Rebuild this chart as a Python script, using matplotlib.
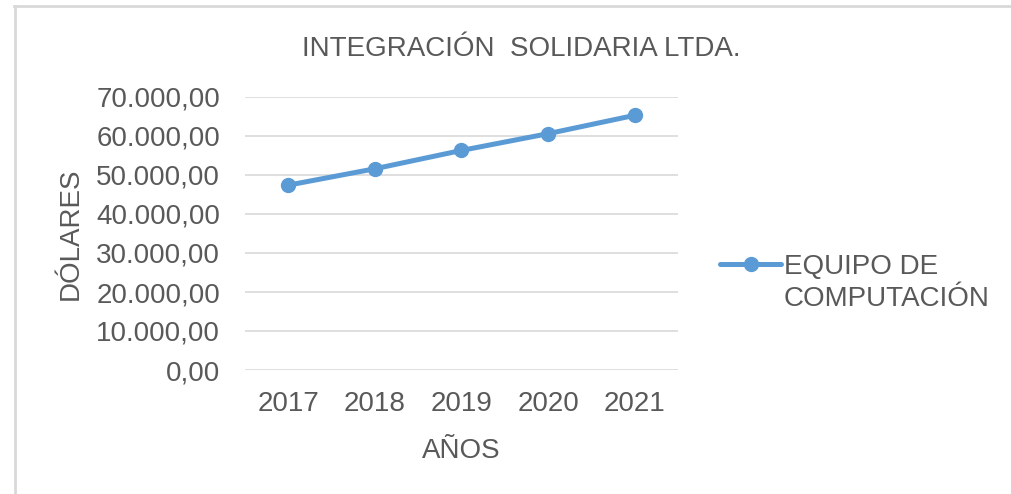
import matplotlib
matplotlib.use("Agg")
import matplotlib.pyplot as plt
import matplotlib.ticker as mticker
from matplotlib.lines import Line2D

# datos del grafico
anios = ["2017", "2018", "2019", "2020", "2021"]
equipo_computacion = [47400, 51600, 56300, 60600, 65300]
titulo = "INTEGRACIÓN  SOLIDARIA LTDA."
serie = "EQUIPO DE COMPUTACIÓN"

plt.rcParams['font.family'] = ['Liberation Sans', 'DejaVu Sans']
gris = '#595959'
azul = '#5b9bd5'

fig = plt.figure(figsize=(10.12, 4.94), dpi=100)
ax = fig.add_axes([245/1012, 1-370/494, 433/1012, 273/494])

x = list(range(len(anios)))
linea, = ax.plot(x, equipo_computacion, color=azul, lw=3.6, marker='o', ms=10,
                 solid_capstyle='round')

ax.set_xlim(-0.5, len(anios)-0.5)
ax.set_ylim(0, 70000)
ax.yaxis.set_major_locator(mticker.MultipleLocator(10000))

def formato(v, pos):
    s = f"{v:,.2f}"
    return s.replace(",", "X").replace(".", ",").replace("X", ".")

ax.yaxis.set_major_formatter(mticker.FuncFormatter(formato))
ax.set_xticks(x)
ax.set_xticklabels(anios)

ax.grid(axis='y', color='#d9d9d9', lw=1.2)
ax.set_axisbelow(True)
for s in ax.spines.values():
    s.set_visible(False)
ax.tick_params(axis='both', length=0, labelsize=20, labelcolor=gris)
ax.tick_params(axis='y', pad=18)
ax.tick_params(axis='x', pad=15)

ax.set_xlabel("AÑOS", fontsize=20, color=gris, labelpad=15)
ax.set_ylabel("DÓLARES", fontsize=20, color=gris, labelpad=9)

fig.text(521/1012, 1-55.7/494, titulo, fontsize=20, color=gris,
         ha='center', va='baseline')

# leyenda: texto en dos lineas con el simbolo en la primera
vacio = Line2D([], [], linestyle='none')
partes = serie.split(" ", 2)
leg = fig.legend([linea, vacio], [partes[0] + " " + partes[1], partes[2]],
                 loc='upper left', bbox_to_anchor=(720/1012, 1-254/494),
                 frameon=False, fontsize=20, labelcolor=gris,
                 handlelength=2.2, handletextpad=0.1, labelspacing=0.2,
                 borderpad=0, borderaxespad=0)

# marco del area del grafico
fig.add_artist(Line2D([14/1012, 1], [1-6/494, 1-6/494], color='#d9d9d9', lw=2))
fig.add_artist(Line2D([15/1012, 15/1012], [0, 1-6/494], color='#d9d9d9', lw=2))

fig.savefig("out.png", dpi=100)
